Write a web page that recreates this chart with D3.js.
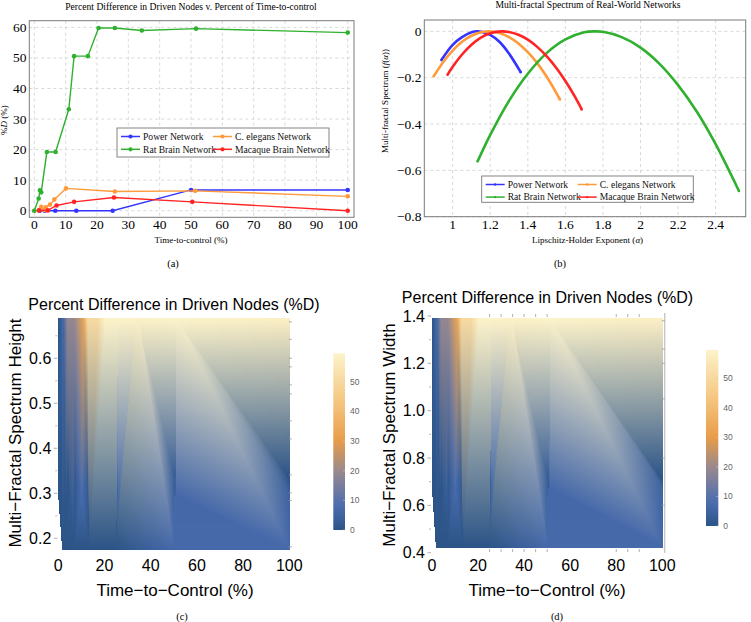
<!DOCTYPE html>
<html><head><meta charset="utf-8">
<script src="https://cdn.jsdelivr.net/npm/d3@7"></script>
<style>body{margin:0;background:#fff} svg{display:block}</style>
</head><body>
<svg id="fig" width="751" height="622"></svg>
<script>
// ---------- data ----------
const networks = ["Power Network", "C. elegans Network", "Rat Brain Network", "Macaque Brain Network"];
const netColors = ["#3434ff", "#ff9a3a", "#2fb12f", "#ff2424"];

// (a) time-to-control (%) and %D
const powerT = [1.7, 3.3, 6.7, 13.4, 25, 50, 100];
const powerD = [0, 0, 0, 0, 0, 6.8, 6.8];
const celegansT = [0, 1.6, 2.2, 3.2, 3.6, 5.0, 6.4, 10.1, 25.7, 51.3, 100];
const celegansD = [0, 0.2, 1.3, 0.2, 1.1, 2.0, 3.7, 7.3, 6.3, 6.5, 4.7];
const ratT = [0, 1.4, 1.8, 2.2, 4.0, 6.8, 11.0, 12.7, 17.1, 20.5, 25.7, 34.3, 51.6, 100];
const ratD = [0, 4.0, 6.7, 6.0, 19.2, 19.2, 33.2, 50.6, 50.6, 59.8, 59.8, 59.0, 59.6, 58.3];
const macaqueT = [1.5, 4.3, 7.1, 12.7, 25.4, 50.4, 100];
const macaqueD = [0.1, 0.1, 1.7, 2.9, 4.3, 2.9, 0];

// (b) multifractal spectra
const powerAlpha = [0.94, 1.0, 1.05, 1.1, 1.135, 1.2, 1.25, 1.3, 1.362];
const powerF = [-0.124, -0.058, -0.025, -0.004, 0, -0.015, -0.046, -0.096, -0.176];
const celegansAlpha = [0.899, 0.95, 1.0, 1.05, 1.1, 1.15, 1.19, 1.25, 1.3, 1.35, 1.4, 1.45, 1.5, 1.55, 1.571];
const celegansF = [-0.194, -0.132, -0.083, -0.045, -0.019, -0.004, 0, -0.007, -0.025, -0.052, -0.090, -0.137, -0.195, -0.263, -0.294];
const ratAlpha = [1.133, 1.2, 1.3, 1.4, 1.5, 1.6, 1.7, 1.755, 1.8, 1.9, 2.0, 2.1, 2.2, 2.3, 2.4, 2.524];
const ratF = [-0.561, -0.447, -0.300, -0.183, -0.094, -0.035, -0.004, 0, -0.002, -0.025, -0.070, -0.139, -0.232, -0.347, -0.487, -0.689];
const macaqueAlpha = [0.973, 1.0, 1.05, 1.1, 1.15, 1.2, 1.26, 1.3, 1.35, 1.4, 1.45, 1.5, 1.55, 1.6, 1.65, 1.687];
const macaqueF = [-0.187, -0.153, -0.100, -0.058, -0.027, -0.008, 0, -0.003, -0.015, -0.036, -0.067, -0.107, -0.156, -0.214, -0.281, -0.337];

// (c),(d) spectrum height / width of each network (same order as networks)
const spectrumHeight = [0.176, 0.294, 0.689, 0.337];
const spectrumWidth = [0.422, 0.672, 1.391, 0.714];

// ticks
const xTicksA = [0, 10, 20, 30, 40, 50, 60, 70, 80, 90, 100];
const yTicksA = [0, 10, 20, 30, 40, 50, 60];
const xTicksB = [1, 1.2, 1.4, 1.6, 1.8, 2, 2.2, 2.4];
const yTicksB = [0, -0.2, -0.4, -0.6, -0.8];
const xTicksCD = [0, 20, 40, 60, 80, 100];
const yTicksC = [0.2, 0.3, 0.4, 0.5, 0.6];
const yTicksD = [0.4, 0.6, 0.8, 1.0, 1.2, 1.4];
const barTicks = [0, 10, 20, 30, 40, 50];
const colorStops = [0, 8, 19, 30, 42, 59.6];
const colorRange = ["#2c5487", "#4b6db0", "#928792", "#e89c49", "#f4c27a", "#fdf3ca"];

// ---------- setup ----------
const serif = "'Liberation Serif','Times New Roman',serif";
const sans = "'Liberation Sans',Arial,sans-serif";
const svg = d3.select("#fig");
const fmtMinus = v => (v < 0 ? "\u2212" + Math.abs(v) : String(v));

const seriesA = [[powerT, powerD], [celegansT, celegansD], [ratT, ratD], [macaqueT, macaqueD]];
const seriesB = [[powerAlpha, powerF], [celegansAlpha, celegansF], [ratAlpha, ratF], [macaqueAlpha, macaqueF]];

function legend(g, x0, y0, w, h, col2, rowGap, markR) {
  g.append("rect").attr("x", x0).attr("y", y0).attr("width", w).attr("height", h)
    .attr("fill", "#fff").attr("stroke", "#777").attr("stroke-width", 0.9);
  networks.forEach((n, i) => {
    const cx = x0 + 4 + (i % 2) * col2;
    const cy = y0 + 8.5 + Math.floor(i / 2) * rowGap;
    g.append("line").attr("x1", cx).attr("x2", cx + 19).attr("y1", cy).attr("y2", cy)
      .attr("stroke", netColors[i]).attr("stroke-width", 1.5);
    g.append("circle").attr("cx", cx + 9.5).attr("cy", cy).attr("r", markR).attr("fill", netColors[i]);
    g.append("text").attr("x", cx + 22).attr("y", cy + 3.3).text(n)
      .attr("font-family", serif).attr("font-size", 9.6).attr("fill", "#111");
  });
}

// ---------- panel (a) ----------
{
  const g = svg.append("g");
  const x = d3.scaleLinear().domain([-1.6, 102]).range([29.3, 354]);
  const y = d3.scaleLinear().domain([-2.16, 62.2]).range([217.3, 20.7]);
  g.selectAll(".gx").data(xTicksA).join("line").attr("x1", d => x(d)).attr("x2", d => x(d))
    .attr("y1", 20.7).attr("y2", 217.3).attr("stroke", "#cfcfcf").attr("stroke-dasharray", "3,3").attr("stroke-width", 0.8);
  g.selectAll(".gy").data(yTicksA).join("line").attr("y1", d => y(d)).attr("y2", d => y(d))
    .attr("x1", 29.3).attr("x2", 354).attr("stroke", "#cfcfcf").attr("stroke-dasharray", "3,3").attr("stroke-width", 0.8);
  g.append("rect").attr("x", 29.3).attr("y", 20.7).attr("width", 354 - 29.3).attr("height", 217.3 - 20.7)
    .attr("fill", "none").attr("stroke", "#7a7a7a").attr("stroke-width", 1);
  g.selectAll(".tx").data(xTicksA).join("text").attr("x", d => x(d)).attr("y", 229)
    .attr("text-anchor", "middle").attr("font-family", serif).attr("font-size", 13.5).text(d => d);
  g.selectAll(".ty").data(yTicksA).join("text").attr("x", 26.5).attr("y", d => y(d) + 4.5)
    .attr("text-anchor", "end").attr("font-family", serif).attr("font-size", 13.5).text(d => d);
  const line = d3.line().x(d => x(d[0])).y(d => y(d[1]));
  seriesA.forEach((s, i) => {
    const pts = s[0].map((t, j) => [t, s[1][j]]);
    g.append("path").attr("d", line(pts)).attr("fill", "none").attr("stroke", netColors[i]).attr("stroke-width", 1.4);
    g.selectAll(null).data(pts).join("circle").attr("cx", d => x(d[0])).attr("cy", d => y(d[1]))
      .attr("r", 2.3).attr("fill", netColors[i]);
  });
  legend(g, 117, 128, 212, 29, 92, 12.8, 2.1);
  g.append("text").attr("x", 191).attr("y", 9.5).attr("text-anchor", "middle").attr("font-family", serif)
    .attr("font-size", 9.6).text("Percent Difference in Driven Nodes v. Percent of Time-to-control");
  g.append("text").attr("x", 191).attr("y", 243).attr("text-anchor", "middle").attr("font-family", serif)
    .attr("font-size", 9).text("Time-to-control (%)");
  const yl = g.append("text").attr("transform", "translate(7,120) rotate(-90)").attr("text-anchor", "middle")
    .attr("font-family", serif).attr("font-size", 9);
  yl.append("tspan").text("%");
  yl.append("tspan").attr("font-style", "italic").text("D");
  yl.append("tspan").text(" (%)");
  g.append("text").attr("x", 173).attr("y", 267).attr("text-anchor", "middle").attr("font-family", serif)
    .attr("font-size", 10.5).text("(a)");
}

// ---------- panel (b) ----------
{
  const g = svg.append("g");
  const x = d3.scaleLinear().domain([0.849, 2.56]).range([424.3, 745.7]);
  const y = d3.scaleLinear().domain([-0.8, 0.049]).range([216.7, 20]);
  g.selectAll(".gx").data(xTicksB).join("line").attr("x1", d => x(d)).attr("x2", d => x(d))
    .attr("y1", 20).attr("y2", 216.7).attr("stroke", "#cfcfcf").attr("stroke-dasharray", "3,3").attr("stroke-width", 0.8);
  g.selectAll(".gy").data(yTicksB).join("line").attr("y1", d => y(d)).attr("y2", d => y(d))
    .attr("x1", 424.3).attr("x2", 745.7).attr("stroke", "#cfcfcf").attr("stroke-dasharray", "3,3").attr("stroke-width", 0.8);
  g.append("rect").attr("x", 424.3).attr("y", 20).attr("width", 745.7 - 424.3).attr("height", 216.7 - 20)
    .attr("fill", "none").attr("stroke", "#7a7a7a").attr("stroke-width", 1);
  g.selectAll(".tx").data(xTicksB).join("text").attr("x", d => x(d)).attr("y", 229)
    .attr("text-anchor", "middle").attr("font-family", serif).attr("font-size", 13.5).text(d => d);
  g.selectAll(".ty").data(yTicksB).join("text").attr("x", 421.5).attr("y", d => y(d) + 4.5)
    .attr("text-anchor", "end").attr("font-family", serif).attr("font-size", 13.5).text(d => fmtMinus(d));
  const line = d3.line().x(d => x(d[0])).y(d => y(d[1])).curve(d3.curveCatmullRom);
  seriesB.forEach((s, i) => {
    const pts = s[0].map((a, j) => [a, s[1][j]]);
    g.append("path").attr("d", line(pts)).attr("fill", "none").attr("stroke", netColors[i]).attr("stroke-width", 2.6);
    const e = pts[0], f = pts[pts.length - 1];
    [e, f].forEach(p => g.append("circle").attr("cx", x(p[0])).attr("cy", y(p[1])).attr("r", 1.3).attr("fill", netColors[i]));
  });
  legend(g, 481.7, 176, 211.6, 26.3, 92, 12.6, 1.2);
  g.append("text").attr("x", 588).attr("y", 8).attr("text-anchor", "middle").attr("font-family", serif)
    .attr("font-size", 9.6).text("Multi-fractal Spectrum of Real-World Networks");
  const xl = g.append("text").attr("x", 587.5).attr("y", 243).attr("text-anchor", "middle").attr("font-family", serif)
    .attr("font-size", 9);
  xl.append("tspan").text("Lipschitz-Holder Exponent (");
  xl.append("tspan").attr("font-style", "italic").text("\u03b1");
  xl.append("tspan").text(")");
  const yl = g.append("text").attr("transform", "translate(388,101) rotate(-90)").attr("text-anchor", "middle")
    .attr("font-family", serif).attr("font-size", 9);
  yl.append("tspan").text("Multi-fractal Spectrum (");
  yl.append("tspan").attr("font-style", "italic").text("f");
  yl.append("tspan").text("(");
  yl.append("tspan").attr("font-style", "italic").text("\u03b1");
  yl.append("tspan").text("))");
  g.append("text").attr("x", 560).attr("y", 267).attr("text-anchor", "middle").attr("font-family", serif)
    .attr("font-size", 10.5).text("(b)");
}

// ---------- density panels ----------
const colorScale = d3.scaleLinear().domain(colorStops).range(colorRange).interpolate(d3.interpolateRgb).clamp(true);

function densityPanel(opts) {
  const g = svg.append("g");
  const x = d3.scaleLinear().domain([0, 100]).range(opts.xr);
  const y = d3.scaleLinear().domain(opts.yd).range(opts.yr);
  // data points (triangulated in raw data coordinates)
  const raw = [], pts = [], cols = [];
  seriesA.forEach((s, i) => {
    s[0].forEach((t, j) => {
      raw.push([t, opts.levels[i]]);
      pts.push([x(t), y(opts.levels[i])]);
      const c = d3.rgb(colorScale(s[1][j]));
      cols.push([c.r, c.g, c.b]);
    });
  });
  const del = d3.Delaunay.from(raw);
  const x0 = Math.floor(d3.min(pts, p => p[0])), x1 = Math.ceil(d3.max(pts, p => p[0]));
  const y0 = Math.floor(d3.min(pts, p => p[1])), y1 = Math.ceil(d3.max(pts, p => p[1]));
  const w = x1 - x0, h = y1 - y0;
  const canvas = document.createElement("canvas");
  canvas.width = w; canvas.height = h;
  const ctx = canvas.getContext("2d");
  const img = ctx.createImageData(w, h);
  const T = del.triangles;
  for (let k = 0; k < T.length; k += 3) {
    const a = pts[T[k]], b = pts[T[k + 1]], c = pts[T[k + 2]];
    const ca = cols[T[k]], cb = cols[T[k + 1]], cc = cols[T[k + 2]];
    const det = (b[1] - c[1]) * (a[0] - c[0]) + (c[0] - b[0]) * (a[1] - c[1]);
    if (Math.abs(det) < 1e-9) continue;
    const bx0 = Math.max(x0, Math.floor(Math.min(a[0], b[0], c[0]))), bx1 = Math.min(x1, Math.ceil(Math.max(a[0], b[0], c[0])));
    const by0 = Math.max(y0, Math.floor(Math.min(a[1], b[1], c[1]))), by1 = Math.min(y1, Math.ceil(Math.max(a[1], b[1], c[1])));
    for (let py = by0; py < by1; py++) {
      for (let px = bx0; px < bx1; px++) {
        const X = px + 0.5, Y = py + 0.5;
        const l1 = ((b[1] - c[1]) * (X - c[0]) + (c[0] - b[0]) * (Y - c[1])) / det;
        const l2 = ((c[1] - a[1]) * (X - c[0]) + (a[0] - c[0]) * (Y - c[1])) / det;
        const l3 = 1 - l1 - l2;
        const eps = -0.02;
        if (l1 < eps || l2 < eps || l3 < eps) continue;
        const idx = ((py - y0) * w + (px - x0)) * 4;
        img.data[idx] = l1 * ca[0] + l2 * cb[0] + l3 * cc[0];
        img.data[idx + 1] = l1 * ca[1] + l2 * cb[1] + l3 * cc[1];
        img.data[idx + 2] = l1 * ca[2] + l2 * cb[2] + l3 * cc[2];
        img.data[idx + 3] = 255;
      }
    }
  }
  ctx.putImageData(img, 0, 0);
  g.append("image").attr("x", x0).attr("y", y0).attr("width", w).attr("height", h)
    .attr("href", canvas.toDataURL());

  // axes
  const tickC = "#9a9a9a";
  g.selectAll(".ty").data(opts.yTicks).join("text").attr("x", opts.xr[0] - 7).attr("y", d => y(d) + 5.7)
    .attr("text-anchor", "end").attr("font-family", sans).attr("font-size", 16).text(d => d.toFixed(1));
  g.selectAll(".tmy").data(opts.yTicks).join("line").attr("x1", opts.xr[0] - 4.5).attr("x2", opts.xr[0] - 1)
    .attr("y1", d => y(d)).attr("y2", d => y(d)).attr("stroke", tickC).attr("stroke-width", 0.8);
  g.selectAll(".tmy2").data(opts.yMinor).join("line").attr("x1", opts.xr[0] - 3).attr("x2", opts.xr[0] - 1)
    .attr("y1", d => y(d)).attr("y2", d => y(d)).attr("stroke", tickC).attr("stroke-width", 0.7);
  g.selectAll(".tx").data(xTicksCD).join("text").attr("x", d => x(d)).attr("y", 571)
    .attr("text-anchor", "middle").attr("font-family", sans).attr("font-size", 16).text(d => d);
  // right-side ticks
  const rx = opts.xr[1] + 2.5;
  if (opts.rightLine) g.append("line").attr("x1", rx).attr("x2", rx).attr("y1", opts.rightLine[0]).attr("y2", opts.rightLine[1])
    .attr("stroke", "#a8a8a8").attr("stroke-width", 0.9);
  g.selectAll(".rt").data(opts.rightTicks).join("line").attr("x1", rx - 3).attr("x2", rx)
    .attr("y1", d => y(d)).attr("y2", d => y(d)).attr("stroke", tickC).attr("stroke-width", 0.8);
  if (opts.tbTicks) {
    [opts.tbY[0], opts.tbY[1]].forEach((yy, k) => {
      g.selectAll(null).data(opts.tbTicks).join("line").attr("x1", d => x(d)).attr("x2", d => x(d))
        .attr("y1", yy).attr("y2", yy + (k ? -3 : 3)).attr("stroke", tickC).attr("stroke-width", 0.8);
    });
  }
  // titles
  g.append("text").attr("x", opts.titleX).attr("y", opts.titleY).attr("text-anchor", "middle")
    .attr("font-family", sans).attr("font-size", 16).text("Percent Difference in Driven Nodes (%D)");
  g.append("text").attr("x", opts.xlabX).attr("y", 596).attr("text-anchor", "middle")
    .attr("font-family", sans).attr("font-size", 17).text("Time\u2212to\u2212Control (%)");
  g.append("text").attr("transform", `translate(${opts.ylabX},${opts.ylabY}) rotate(-90)`).attr("text-anchor", "middle")
    .attr("font-family", sans).attr("font-size", 17).text(opts.ylab);
  g.append("text").attr("x", opts.capX).attr("y", 620).attr("text-anchor", "middle").attr("font-family", serif)
    .attr("font-size", 10.5).text(opts.cap);

  // colorbar
  const cb = opts.cb;
  const gid = "grad" + opts.cap.replace(/\W/g, "");
  const grad = svg.append("defs").append("linearGradient").attr("id", gid)
    .attr("x1", 0).attr("x2", 0).attr("y1", 1).attr("y2", 0);
  d3.range(0, 1.0001, 0.05).forEach(t => grad.append("stop").attr("offset", t).attr("stop-color", colorScale(t * 59.6)));
  g.append("rect").attr("x", cb.x).attr("y", cb.top).attr("width", cb.w).attr("height", cb.bottom - cb.top)
    .attr("fill", `url(#${gid})`);
  const cy = d3.scaleLinear().domain([0, 59.6]).range([cb.bottom, cb.top]);
  g.selectAll(".cbt").data(barTicks).join("line").attr("x1", cb.x + cb.w - 2).attr("x2", cb.x + cb.w)
    .attr("y1", d => cy(d)).attr("y2", d => cy(d)).attr("stroke", "#ccc").attr("stroke-width", 0.6);
  g.selectAll(".cbl").data(barTicks).join("text").attr("x", cb.x + cb.w + 5).attr("y", d => cy(d) + 3)
    .attr("font-family", sans).attr("font-size", 8.5).attr("fill", "#666").text(d => d);
}

densityPanel({
  xr: [58.3, 289.3], yd: [0.2, 0.6], yr: [538.3, 358.3], levels: spectrumHeight,
  yTicks: yTicksC, yMinor: [0.25, 0.35, 0.45, 0.55, 0.65],
  rightTicks: [0.681, 0.642, 0.6, 0.581, 0.541, 0.521, 0.461, 0.421, 0.341, 0.301, 0.284, 0.181],
  titleX: 174, titleY: 310, xlabX: 175, ylabX: 21, ylabY: 433, ylab: "Multi\u2212Fractal Spectrum Height",
  capX: 182, cap: "(c)", cb: { x: 333.3, w: 11.7, top: 353.3, bottom: 530 }
});
densityPanel({
  xr: [432, 662.3], yd: [0.4, 1.4], yr: [552.7, 316], levels: spectrumWidth,
  yTicks: yTicksD, yMinor: [0.5, 0.7, 0.9, 1.1, 1.3],
  rightTicks: [1.38, 1.26, 1.2, 1.05, 0.8, 0.6], rightLine: [313, 553],
  tbTicks: [25, 30, 35, 40, 45, 50, 80, 85, 90], tbY: [314, 552],
  titleX: 547.5, titleY: 303, xlabX: 547, ylabX: 395, ylabY: 435, ylab: "Multi\u2212Fractal Spectrum Width",
  capX: 557, cap: "(d)", cb: { x: 706, w: 12.3, top: 350, bottom: 526 }
});
</script>
</body></html>
